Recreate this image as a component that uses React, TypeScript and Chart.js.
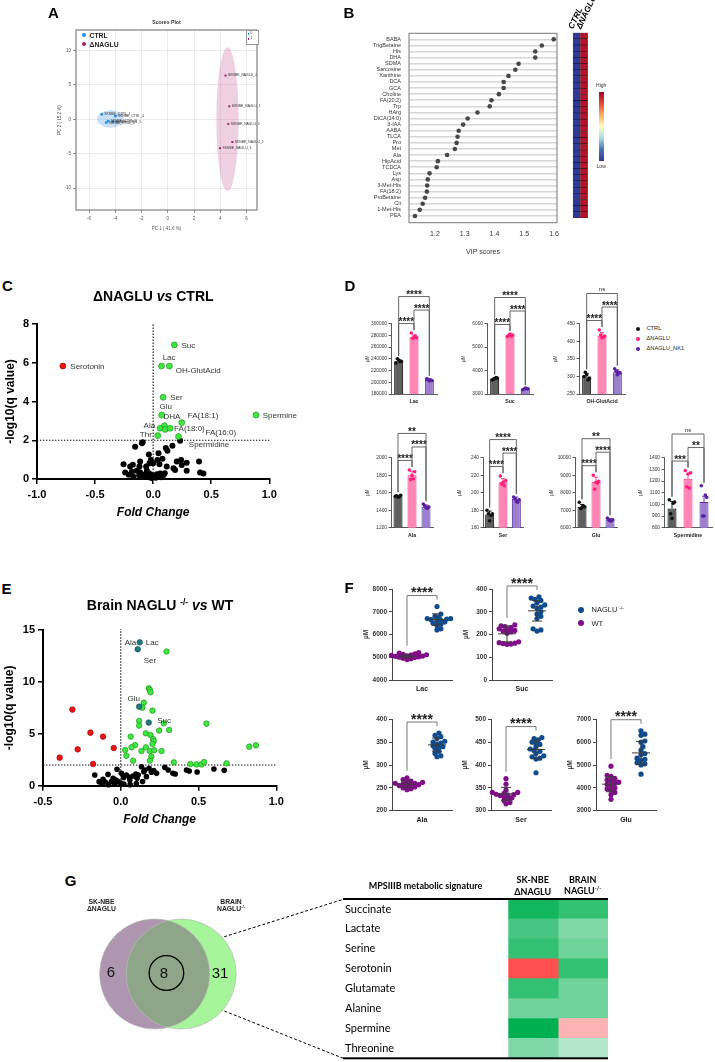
import React, { useEffect, useRef } from 'react';
import { Chart, registerables } from 'chart.js';

Chart.register(...registerables);

const ARIAL = '"Liberation Sans", Arial, Helvetica, sans-serif';
const LATO = 'Lato, "Open Sans", sans-serif';
Chart.defaults.font.family = ARIAL;
Chart.defaults.color = '#222';

/* ================= DATA ================= */
// A: PCA scores
const pcaCtrlNames = ['SKNBE_CTRL_1', 'SKNBE_CTRL_4', 'SKNBE_CTRL_3', 'SKNBE_CTRL_2', 'SKNBE_CTRL_5'];
const pcaCtrlPC1 = [-5.03, -4.0, -4.55, -4.7, -4.19];
const pcaCtrlPC2 = [0.73, 0.48, -0.25, -0.48, -0.34];
const pcaNagluNames = ['SKNBE_NAGLU_4', 'SKNBE_NAGLU_1', 'SKNBE_NAGLU_5', 'SKNBE_NAGLU_2', 'SKNBE_NAGLU_3'];
const pcaNagluPC1 = [4.4, 4.69, 4.61, 4.92, 3.98];
const pcaNagluPC2 = [6.37, 1.9, -0.68, -3.3, -4.2];
const pcaCtrlEllipse = [-4.37, 0.05, 1.04, 1.26];
const pcaNagluEllipse = [4.55, 0.0, 0.85, 10.45];

// B: VIP scores
const vipNames = ['BABA', 'TrigBetaine', 'His', 'DHA', 'SDMA', 'Sarcosine', 'Xanthine', 'DCA', 'GCA', 'Choline', 'FA(20:2)', 'Trp', 'HArg', 'DiCA(14:0)', '3-IAA', 'AABA', 'TLCA', 'Pro', 'Met', 'Ala', 'HipAcid', 'TCDCA', 'Lys', 'Asp', '3-Met-His', 'FA(18:2)', 'ProBetaine', 'Cit', '1-Met-His', 'PEA'];
const vipScores = [1.599, 1.559, 1.537, 1.537, 1.481, 1.47, 1.447, 1.431, 1.431, 1.415, 1.39, 1.384, 1.343, 1.31, 1.295, 1.28, 1.276, 1.273, 1.267, 1.241, 1.21, 1.206, 1.182, 1.176, 1.174, 1.173, 1.167, 1.159, 1.149, 1.133];
const vipCtrlLevel = [-1, -1, -1, -1, -1, -1, -1, -1, -1, -1, -1, -1, -1, -1, -1, -1, -1, -1, -1, -1, -1, -1, -1, -1, -1, -1, -1, -1, -1, -1];
const vipNagluLevel = [1, 1, 1, 1, 1, 1, 1, 1, 1, 1, 1, 1, 1, 1, 1, 1, 1, 1, 1, 1, 1, 1, 1, 1, 1, 1, 1, 1, 1, 1];

// C: volcano ΔNAGLU vs CTRL
const cUpNames = ['Suc', 'Lac', 'OH-GlutAcid', 'Ser', 'Glu', 'FA(18:1)', 'Spermine', 'DHA', 'Ala', '', 'FA(18:0)', 'Thr', 'FA(16:0)'];
const cUpPts: [number, number][] = [[0.183, 6.92], [0.072, 5.83], [0.14, 5.83], [0.086, 4.22], [0.074, 3.3], [0.246, 2.91], [0.885, 3.3], [0.097, 2.75], [0.06, 2.62], [0.103, 2.56], [0.146, 2.62], [0.04, 2.24], [0.218, 2.19]];
const cDownNames = ['Serotonin'];
const cDownPts: [number, number][] = [[-0.777, 5.83]];
const cNsNames = ['Spermidine'];
const cNsPts: [number, number][] = [[0.232, 1.98], [-0.155, 1.67], [-0.097, 1.84], [-0.09, 1.9], [-0.037, 1.27], [0.046, 1.33], [0.109, 1.6], [0.123, 1.46], [0.166, 1.72], [0.08, 1.05], [-0.255, 0.76], [-0.175, 0.74], [-0.112, 0.9], [-0.032, 0.81], [0.0, 0.81], [0.054, 0.76], [0.203, 0.9], [0.241, 0.98], [0.289, 0.84], [0.395, 0.9], [-0.241, 0.33], [-0.183, 0.38], [-0.14, 0.43], [-0.112, 0.33], [-0.054, 0.43], [-0.034, 0.29], [-0.009, 0.21], [0.011, 0.12], [0.032, 0.24], [0.06, 0.29], [0.089, 0.21], [0.175, 0.55], [0.189, 0.46], [0.246, 0.72], [0.289, 0.43], [0.404, 0.33], [0.433, 0.29], [-0.169, 0.12], [-0.083, 0.12], [-0.04, 0.09], [-0.014, 0.05], [0.023, 0.07], [0.072, 0.09], [-0.06, 0.64], [-0.118, 0.64], [0.117, 0.64], [-0.02, 0.98], [0.037, 0.98], [-0.198, 0.64], [-0.12, 0.2], [-0.07, 0.25], [0.1, 0.3], [-0.21, 0.22]];

// D: bar charts
const dGroups = ['CTRL', 'ΔNAGLU', 'ΔNAGLU_NK1'];
const lacMean = [236000, 277000, 204000];
const lacSd = [3000, 3500, 2000];
const lacPts = [[233000, 236000, 238000, 240000, 235000], [284000, 276000, 277000, 275000, 279000], [206000, 203000, 202000, 205000, 204000]];
const lacSig = ['****', '****', '****'];
const sucMean = [3650, 5500, 3210];
const sucSd = [50, 45, 40];
const sucPts = [[3600, 3680, 3650, 3620, 3700], [5450, 5520, 5560, 5500, 5480], [3180, 3220, 3250, 3200, 3230]];
const sucSig = ['****', '****', '****'];
const ohMean = [300, 416, 312];
const ohSd = [8, 9, 7];
const ohPts = [[300, 295, 305, 312, 290], [432, 415, 410, 418, 412], [322, 310, 305, 315, 312]];
const ohSig = ['****', '****', 'ns'];
const alaMean = [1560, 1800, 1440];
const alaSd = [10, 45, 20];
const alaPts = [[1560, 1570, 1550, 1565, 1555], [1860, 1840, 1800, 1750, 1760], [1470, 1440, 1430, 1450, 1420]];
const alaSig = ['****', '****', '**'];
const serMean = [175, 212, 193];
const serSd = [4, 4, 2];
const serPts = [[180, 176, 168, 176, 174], [219, 214, 212, 210, 208], [195, 192, 190, 193, 189]];
const serSig = ['****', '****', '****'];
const gluMean = [7200, 8630, 6470];
const gluSd = [130, 260, 60];
const gluPts = [[7450, 7200, 7150, 7100, 7250], [9000, 8650, 8600, 8200, 8550], [6550, 6450, 6400, 6450, 6380]];
const gluSig = ['****', '****', '**'];
const spdMean = [965, 1220, 1020];
const spdSd = [60, 45, 50];
const spdPts = [[1040, 1020, 880, 920, 1010], [1290, 1270, 1260, 1150, 1140], [1160, 1060, 900, 900, 1080]];
const spdSig = ['***', '**', 'ns'];

// E: volcano brain NAGLU-/- vs WT
const eTealNames = ['Ala', 'Lac', 'Glu', 'Suc'];
const eTealPts: [number, number][] = [[0.122, 13.82], [0.109, 13.15], [0.118, 7.62], [0.18, 6.08]];
const eUpNames = ['Ser'];
const eUpPts: [number, number][] = [[0.294, 12.93], [0.18, 9.39], [0.187, 9.23], [0.191, 9.0], [0.148, 8.0], [0.139, 7.52], [0.204, 7.23], [0.118, 6.24], [0.118, 5.79], [0.277, 6.01], [0.551, 5.98], [0.247, 5.31], [0.311, 5.37], [0.161, 5.05], [0.191, 4.89], [0.064, 4.73], [0.208, 4.5], [0.212, 4.31], [0.204, 4.02], [0.092, 3.92], [0.069, 3.7], [0.161, 3.7], [0.133, 3.34], [0.187, 3.34], [0.215, 3.41], [0.262, 3.34], [0.028, 3.44], [0.036, 2.89], [0.197, 2.8], [0.079, 2.41], [0.187, 2.41], [0.341, 2.25], [0.448, 2.09], [0.487, 2.05], [0.519, 2.05], [0.536, 2.28], [0.68, 2.15], [0.826, 3.76], [0.869, 3.89]];
const eDownPts: [number, number][] = [[-0.311, 7.33], [-0.195, 5.11], [-0.114, 4.73], [-0.277, 3.5], [-0.045, 3.63], [-0.393, 2.7], [-0.178, 2.09]];
const eNsPts: [number, number][] = [[-0.167, 1.03], [-0.139, 0.39], [-0.114, 0.61], [-0.082, 1.09], [-0.049, 0.71], [-0.032, 0.55], [-0.024, 1.58], [0.004, 1.19], [0.019, 0.8], [0.036, 1.03], [0.058, 0.8], [0.079, 0.93], [0.097, 1.13], [0.133, 1.83], [0.155, 1.51], [0.182, 1.67], [0.197, 1.29], [0.212, 1.45], [0.23, 1.19], [0.283, 1.77], [0.305, 1.51], [0.335, 1.19], [0.35, 1.13], [0.423, 1.51], [0.44, 1.41], [0.491, 1.32], [0.599, 1.61], [0.665, 1.48], [-0.06, 0.39], [-0.017, 0.39], [-0.002, 0.29], [0.058, 0.55], [0.105, 0.71], [0.148, 1.35], [0.165, 0.87], [0.112, 1.03], [-0.12, 0.15], [-0.08, 0.1], [-0.04, 0.2], [0.02, 0.15], [0.06, 0.1], [0.1, 0.2], [-0.1, 0.35], [0.14, 0.4]];

// F: dot plots brain
const fGroups = ['WT', 'NAGLU -/-'];
const fLacWT = [4900, 4930, 4960, 4990, 5000, 5020, 5040, 5050, 5060, 5080, 5100, 5110, 5130, 5150, 5180, 5200];
const fLacKO = [7230, 6900, 6800, 6750, 6700, 6680, 6650, 6620, 6600, 6550, 6500, 6450, 6400, 6250, 6200, 6700];
const fLacMean = [5045, 6660];
const fLacSd = [60, 250];
const fSucWT = [242, 238, 235, 230, 225, 222, 218, 215, 212, 205, 168, 164, 160, 157, 162, 158];
const fSucKO = [365, 360, 355, 350, 340, 330, 325, 320, 315, 300, 290, 280, 270, 225, 220, 215];
const fSucMean = [203, 304];
const fSucSd = [35, 45];
const fAlaWT = [272, 268, 265, 262, 260, 258, 257, 256, 255, 254, 252, 250, 248, 246, 262, 260];
const fAlaKO = [370, 365, 362, 358, 352, 348, 345, 342, 340, 338, 335, 330, 325, 320, 318, 350];
const fAlaMean = [258, 344];
const fAlaSd = [7, 15];
const fSerWT = [370, 358, 345, 340, 338, 336, 335, 334, 333, 330, 328, 326, 322, 318, 315, 340];
const fSerKO = [460, 458, 455, 450, 448, 445, 440, 435, 432, 430, 425, 420, 418, 415, 413, 383];
const fSerMean = [337, 434];
const fSerSd = [14, 20];
const fGluWT = [4950, 4550, 4500, 4400, 4350, 4300, 4250, 4200, 4150, 4100, 4000, 3950, 3900, 3800, 3700, 3500];
const fGluKO = [6500, 6350, 6300, 6050, 6000, 5800, 5650, 5500, 5450, 5300, 5250, 5200, 5100, 5050, 5000, 4600];
const fGluMean = [4160, 5530];
const fGluSd = [330, 500];

// G: Venn + signature table
const vennSets = ['SK-NBE ΔNAGLU', 'BRAIN NAGLU-/-'];
const vennX = [0, 1];
const vennCounts = ['6', '8', '31'];
const gRows = ['Succinate', 'Lactate', 'Serine', 'Serotonin', 'Glutamate', 'Alanine', 'Spermine', 'Threonine'];
const gSkLevel = [0.93, 0.72, 0.8, -0.69, 0.8, 0.57, 1.0, 0.5];
const gBrainLevel = [0.8, 0.5, 0.57, 0.8, 0.57, 0.57, -0.3, 0.3];

/* ================= HELPERS ================= */
const fitW = (w: number) => (s: any) => { s.width = w; };
const fitH = (h: number) => (s: any) => { s.height = h; };
const base = (pad: any) => ({
  responsive: false,
  animation: false,
  events: [],
  layout: { padding: pad },
  plugins: { legend: { display: false }, tooltip: { enabled: false }, title: { display: false } },
});

function cellColor(v: number) {
  const t = Math.min(1, Math.abs(v));
  const c = v >= 0 ? [0, 176, 80] : [255, 0, 0];
  const m = (x: number) => Math.round(255 + (x - 255) * t);
  return `rgb(${m(c[0])},${m(c[1])},${m(c[2])})`;
}
function heatColor(v: number) {
  return v < 0 ? '#2d3b97' : '#b3142c';
}

/* ---------- A ---------- */
function makeA() {
  const plugin = {
    id: 'aExtras',
    beforeDatasetsDraw(chart: any) {
      const { ctx } = chart;
      const xs = chart.scales.x, ys = chart.scales.y;
      const list: [number[], string][] = [[pcaCtrlEllipse, 'rgba(120,178,232,0.4)'], [pcaNagluEllipse, 'rgba(205,120,170,0.35)']];
      list.forEach(([e, c]) => {
        const cx = xs.getPixelForValue(e[0]), cy = ys.getPixelForValue(e[1]);
        const rx = Math.abs(xs.getPixelForValue(e[0] + e[2]) - cx), ry = Math.abs(ys.getPixelForValue(e[1] + e[3]) - cy);
        ctx.save();
        ctx.fillStyle = c;
        ctx.beginPath();
        ctx.ellipse(cx, cy, rx, ry, 0, 0, Math.PI * 2);
        ctx.fill();
        ctx.restore();
      });
    },
    afterDatasetsDraw(chart: any) {
      const { ctx } = chart;
      ctx.save();
      ctx.font = `3.4px ${ARIAL}`;
      ctx.fillStyle = '#333';
      ctx.textBaseline = 'middle';
      ctx.textAlign = 'left';
      [pcaCtrlNames, pcaNagluNames].forEach((names, di) => {
        const meta = chart.getDatasetMeta(di);
        names.forEach((n, i) => { const el = meta.data[i]; ctx.fillText(n, el.x + 2.5, el.y); });
      });
      ctx.restore();
    },
    afterDraw(chart: any) {
      const { ctx, chartArea: a } = chart;
      ctx.save();
      ctx.strokeStyle = '#666';
      ctx.lineWidth = 1;
      ctx.strokeRect(a.left, a.top, a.right - a.left, a.bottom - a.top);
      ctx.restore();
    },
  };
  const tick = { font: { size: 4.5 }, color: '#555' };
  return {
    type: 'scatter',
    data: {
      datasets: [
        { data: pcaCtrlPC1.map((x, i) => ({ x, y: pcaCtrlPC2[i] })), pointRadius: 1.4, pointBackgroundColor: '#1f8fe6', pointBorderWidth: 0 },
        { data: pcaNagluPC1.map((x, i) => ({ x, y: pcaNagluPC2[i] })), pointRadius: 1.4, pointStyle: 'rect', pointBackgroundColor: '#a3206b', pointBorderWidth: 0 },
      ],
    },
    options: {
      ...base({ top: 15, right: 8, left: 0, bottom: 0 }),
      scales: {
        x: { type: 'linear', min: -7, max: 6.8, ticks: { ...tick, stepSize: 2, includeBounds: false, padding: 3 }, grid: { color: '#e6e6e6', lineWidth: 0.8, tickLength: 3, tickColor: '#777' }, border: { display: false }, title: { display: true, text: 'PC 1 ( 41.6 %)', font: { size: 4.5 }, color: '#555', padding: { top: 0, bottom: 9 } }, afterFit: fitH(30) },
        y: { type: 'linear', min: -13.2, max: 13, ticks: { ...tick, stepSize: 5, includeBounds: false, padding: 2 }, grid: { color: '#e6e6e6', lineWidth: 0.8, tickLength: 3, tickColor: '#777' }, border: { display: false }, title: { display: true, text: 'PC 2 ( 15.2 %)', font: { size: 4.5 }, color: '#555', padding: { top: 7, bottom: 0 } }, afterFit: fitW(26) },
      },
    },
    plugins: [plugin],
  };
}

/* ---------- B ---------- */
function makeB() {
  const frame = {
    id: 'bFrame',
    afterDraw(chart: any) {
      const { ctx, chartArea: a } = chart;
      ctx.save();
      ctx.strokeStyle = '#777';
      ctx.lineWidth = 1;
      ctx.strokeRect(a.left, a.top - 3, a.right - a.left, a.bottom - a.top + 6.7);
      ctx.restore();
    },
  };
  return {
    type: 'scatter',
    data: { datasets: [{ data: vipNames.map((n, i) => ({ x: vipScores[i], y: n })), pointRadius: 2.3, pointBackgroundColor: '#474747', pointBorderWidth: 0, clip: false }] },
    options: {
      ...base({ top: 8, right: 6, left: 0, bottom: 0 }),
      scales: {
        x: { type: 'linear', min: 1.113, max: 1.61, ticks: { stepSize: 0.1, includeBounds: false, font: { size: 7 }, color: '#333', padding: 11, callback: (v: any) => Number(v).toFixed(1) }, grid: { display: false, drawTicks: false }, border: { display: false }, title: { display: true, text: 'VIP scores', font: { size: 7 }, color: '#333', padding: { top: 0, bottom: 4 } }, afterFit: fitH(41) },
        y: { type: 'category', labels: vipNames, offset: true, ticks: { font: { size: 5.5 }, color: '#333', padding: 8, autoSkip: false }, grid: { color: '#d6d6d6', lineWidth: 1.6, drawTicks: false }, border: { display: false }, afterFit: fitW(69) },
      },
    },
    plugins: [frame],
  };
}

function makeBHeat() {
  return {
    type: 'bar',
    data: {
      labels: vipNames,
      datasets: [
        { label: 'CTRL', data: vipCtrlLevel.map(() => 1), backgroundColor: vipCtrlLevel.map(heatColor), borderColor: '#1b1b33', borderWidth: 0.6, barPercentage: 1, categoryPercentage: 1 },
        { label: 'ΔNAGLU', data: vipNagluLevel.map(() => 1), backgroundColor: vipNagluLevel.map(heatColor), borderColor: '#2a1010', borderWidth: 0.6, barPercentage: 1, categoryPercentage: 1 },
      ],
    },
    options: {
      ...base({ left: 1.7, top: 1.7, right: 1.3, bottom: 1 }),
      indexAxis: 'y',
      scales: { x: { display: false, stacked: true, min: 0, max: 2 }, y: { display: false, stacked: true } },
    },
  };
}

/* ---------- Volcano (C, E) ---------- */
function volcano(o: any) {
  const refs = {
    id: 'refs',
    beforeDatasetsDraw(chart: any) {
      const { ctx, chartArea: a } = chart;
      const xs = chart.scales.x, ys = chart.scales.y;
      ctx.save();
      ctx.strokeStyle = '#111';
      ctx.lineWidth = 1.1;
      ctx.setLineDash([1.4, 1.6]);
      const x0 = xs.getPixelForValue(0);
      ctx.beginPath(); ctx.moveTo(x0, ys.getPixelForValue(0)); ctx.lineTo(x0, ys.getPixelForValue(o.ymax * 1.006)); ctx.stroke();
      const y0 = ys.getPixelForValue(2);
      ctx.beginPath(); ctx.moveTo(a.left, y0); ctx.lineTo(a.right, y0); ctx.stroke();
      ctx.restore();
    },
  };
  const labels = {
    id: 'labels',
    afterDatasetsDraw(chart: any) {
      const { ctx } = chart;
      ctx.save();
      ctx.font = `${o.lsize}px ${ARIAL}`;
      ctx.fillStyle = '#333';
      ctx.textBaseline = 'middle';
      o.sets.forEach((s: any, di: number) => {
        const meta = chart.getDatasetMeta(di);
        (s.names || []).forEach((n: string, i: number) => {
          const p = o.lpos[n];
          if (!p || !meta.data[i]) return;
          ctx.textAlign = p[2];
          ctx.fillText(n, meta.data[i].x + p[0], meta.data[i].y + p[1]);
        });
      });
      ctx.restore();
    },
  };
  const tickFont = { size: 11, weight: 'bold' };
  const grid = { drawOnChartArea: false, tickLength: 5, color: '#000', lineWidth: 1.5 };
  return {
    type: 'scatter',
    data: {
      datasets: o.sets.map((s: any) => ({ data: s.pts.map((p: number[]) => ({ x: p[0], y: p[1] })), pointRadius: o.r, pointBackgroundColor: s.fill, pointBorderColor: s.edge, pointBorderWidth: s.bw, clip: false, order: s.order })),
    },
    options: {
      ...base({ left: 0, top: o.pt, right: o.pr, bottom: 0 }),
      scales: {
        x: { type: 'linear', min: o.xmin, max: o.xmax, ticks: { stepSize: 0.5, font: tickFont, color: '#000', padding: 4.5, callback: (v: any) => Number(v).toFixed(1) }, grid, border: { color: '#000', width: 2 }, title: { display: true, text: 'Fold Change', font: { size: 12, weight: 'bold', style: 'italic' }, color: '#000', padding: { top: 0, bottom: o.xtb } }, afterFit: fitH(o.hx) },
        y: { type: 'linear', min: 0, max: o.ymax, ticks: { stepSize: o.ystep, font: tickFont, color: '#000', padding: 3 }, grid, border: { color: '#000', width: 2 }, title: { display: true, text: '-log10(q value)', font: { size: 12, weight: 'bold' }, color: '#000', padding: { top: o.ytp, bottom: 0 } }, afterFit: fitW(o.wy) },
      },
    },
    plugins: [refs, labels],
  };
}

const GREEN = '#3fe63f', GREEN_E = '#1f8a1f', RED = '#ee1414', RED_E = '#8a0000';
function makeC() {
  return volcano({
    xmin: -1, xmax: 1, ymax: 8, ystep: 2, r: 3, pt: 24, pr: 35.7, hx: 41, wy: 37, xtb: 0, ytp: 3, lsize: 8,
    sets: [
      { pts: cNsPts, names: cNsNames, fill: '#000', edge: '#000', bw: 0, order: 3 },
      { pts: cUpPts, names: cUpNames, fill: GREEN, edge: GREEN_E, bw: 0.6, order: 2 },
      { pts: cDownPts, names: cDownNames, fill: RED, edge: RED_E, bw: 0.6, order: 1 },
    ],
    lpos: {
      Suc: [7, 1, 'left'], Lac: [7.6, -8.3, 'center'], 'OH-GlutAcid': [6.4, 5, 'left'], Serotonin: [7.4, 1, 'left'],
      Ser: [7, 1, 'left'], Glu: [4, -8.4, 'center'], 'FA(18:1)': [6, -6.6, 'left'], Spermine: [6.7, 1, 'left'],
      DHA: [-1, -9, 'left'], Ala: [-5, -2.5, 'right'], 'FA(18:0)': [4, 1, 'left'], Thr: [-6, -0.6, 'right'],
      'FA(16:0)': [27, -3.3, 'left'], Spermidine: [8.7, 4.4, 'left'],
    },
  });
}
function makeE() {
  return volcano({
    xmin: -0.5, xmax: 1, ymax: 15, ystep: 5, r: 2.8, pt: 18, pr: 13.7, hx: 48.3, wy: 43, xtb: 6.8, ytp: 2, lsize: 8,
    sets: [
      { pts: eNsPts, names: [], fill: '#000', edge: '#000', bw: 0, order: 4 },
      { pts: eUpPts, names: eUpNames, fill: GREEN, edge: GREEN_E, bw: 0.6, order: 3 },
      { pts: eDownPts, names: [], fill: RED, edge: RED_E, bw: 0.6, order: 2 },
      { pts: eTealPts, names: eTealNames, fill: '#1f7a82', edge: '#0e4a50', bw: 0.6, order: 1 },
    ],
    lpos: {
      Ala: [-3.5, 0.5, 'right'], Lac: [8, -6, 'left'], Ser: [-16.6, 9.5, 'center'], Glu: [-5.5, -8, 'center'], Suc: [8.5, -2, 'left'],
    },
  });
}

/* ---------- D bar charts ---------- */
const dBarFill = ['#5f5f5f', '#ff86b5', '#9c80cf'];
const dBarEdge = ['#000000', '#ff2a84', '#5a2aa0'];
const dPtColor = ['#111111', '#ff1f7a', '#5b22a3'];

function makeBar(o: any) {
  return () => {
    const data: any[] = [];
    const groupOf: number[] = [];
    o.pts.forEach((arr: number[], g: number) => arr.forEach((v) => { data.push({ x: dGroups[g], y: v }); groupOf.push(g); }));
    const jit = [-2.7, 2.7, 0, -1.35, 1.35];
    const plugin = {
      id: 'dExtras',
      afterDatasetsUpdate(chart: any) {
        const meta = chart.getDatasetMeta(1);
        const cnt = [0, 0, 0];
        meta.data.forEach((el: any, i: number) => { const g = groupOf[i]; el.x += jit[cnt[g]++ % jit.length]; });
      },
      afterDatasetDraw(chart: any, args: any) {
        if (args.index !== 0) return;
        const { ctx } = chart;
        const xs = chart.scales.x, ys = chart.scales.y;
        ctx.save();
        ctx.lineWidth = 0.9;
        o.means.forEach((m: number, g: number) => {
          const cx = xs.getPixelForValue(g);
          const yt = ys.getPixelForValue(m + o.sd[g]), ym = ys.getPixelForValue(m);
          ctx.strokeStyle = dBarEdge[g];
          ctx.beginPath(); ctx.moveTo(cx, ym); ctx.lineTo(cx, yt); ctx.moveTo(cx - 2, yt); ctx.lineTo(cx + 2, yt); ctx.stroke();
        });
        ctx.restore();
      },
      afterDraw(chart: any) {
        const { ctx } = chart;
        const xs = chart.scales.x, ys = chart.scales.y;
        const top = (g: number) => ys.getPixelForValue(Math.max(...o.pts[g]));
        const l0 = Math.min(top(0), top(1)) - 9.5;
        const l1 = Math.min(l0 - 13.5, Math.min(top(1), top(2)) - 9.5);
        const l2 = Math.min(l1 - 13.5, Math.min(top(0), top(2)) - 9.5);
        const pairs: [number, number, number][] = [[0, 1, l0], [1, 2, l1], [0, 2, l2]];
        ctx.save();
        ctx.strokeStyle = '#555';
        ctx.lineWidth = 0.9;
        ctx.fillStyle = '#222';
        ctx.textAlign = 'center';
        ctx.textBaseline = 'alphabetic';
        pairs.forEach(([a, b, yl], k) => {
          const xa = xs.getPixelForValue(a), xb = xs.getPixelForValue(b);
          const da = Math.max(yl + 3, top(a) - 3), db = Math.max(yl + 3, top(b) - 3);
          ctx.beginPath(); ctx.moveTo(xa, da); ctx.lineTo(xa, yl); ctx.lineTo(xb, yl); ctx.lineTo(xb, db); ctx.stroke();
          const s = o.sig[k];
          if (s === 'ns') { ctx.font = `6px ${ARIAL}`; ctx.fillText(s, (xa + xb) / 2, yl - 2.2); }
          else { ctx.font = `bold 10px ${ARIAL}`; ctx.fillText(s, (xa + xb) / 2, yl + 1.5); }
        });
        ctx.restore();
      },
    };
    const axisCol = '#333';
    return {
      type: 'bar',
      data: {
        labels: dGroups,
        datasets: [
          { type: 'bar', data: o.means, backgroundColor: dBarFill, borderColor: dBarEdge, borderWidth: 1, barPercentage: 9 / (o.pw / 3), categoryPercentage: 1, order: 1 },
          { type: 'scatter', data, pointRadius: 1.8, pointBackgroundColor: groupOf.map((g) => dPtColor[g]), pointBorderWidth: 0, order: 0, clip: false },
        ],
      },
      options: {
        ...base({ left: 0, top: 40.7, right: 4, bottom: 0 }),
        scales: {
          x: { type: 'category', offset: true, ticks: { display: false }, grid: { display: false, drawTicks: false }, border: { color: axisCol, width: 0.8 }, title: { display: true, text: o.name, font: { size: 5.2, weight: 'bold' }, color: '#222', padding: { top: 0, bottom: 3.6 } }, afterFit: fitH(o.hx) },
          y: { type: 'linear', min: o.min, max: o.max, ticks: { stepSize: o.step, font: { size: 4.8 }, color: '#333', padding: 1.5, callback: (v: any) => String(v) }, grid: { drawOnChartArea: false, tickLength: 2.5, color: axisCol, lineWidth: 0.8 }, border: { color: axisCol, width: 0.8 }, title: { display: true, text: 'µM', font: { size: 4.5 }, color: '#333', padding: { top: 0.5, bottom: 0 } }, afterFit: fitW(26) },
        },
      },
      plugins: [plugin],
    };
  };
}

const dCharts = [
  { name: 'Lac', means: lacMean, sd: lacSd, pts: lacPts, sig: lacSig, min: 180000, max: 300000, step: 20000, l: 365, t: 283, pw: 46, hx: 14 },
  { name: 'Suc', means: sucMean, sd: sucSd, pts: sucPts, sig: sucSig, min: 3000, max: 6000, step: 1000, l: 461, t: 283, pw: 46, hx: 14 },
  { name: 'OH-GlutAcid', means: ohMean, sd: ohSd, pts: ohPts, sig: ohSig, min: 250, max: 450, step: 50, l: 553, t: 283, pw: 46, hx: 14 },
  { name: 'Ala', means: alaMean, sd: alaSd, pts: alaPts, sig: alaSig, min: 1200, max: 2000, step: 200, l: 365, t: 417, pw: 42, hx: 14.3 },
  { name: 'Ser', means: serMean, sd: serSd, pts: serPts, sig: serSig, min: 160, max: 240, step: 20, l: 457, t: 417, pw: 40, hx: 14.3 },
  { name: 'Glu', means: gluMean, sd: gluSd, pts: gluPts, sig: gluSig, min: 6000, max: 10000, step: 1000, l: 549, t: 417, pw: 42, hx: 14.3 },
  { name: 'Spermidine', means: spdMean, sd: spdSd, pts: spdPts, sig: spdSig, min: 800, max: 1400, step: 100, l: 638, t: 417, pw: 48, hx: 14.3 },
];

/* ---------- F dot plots ---------- */
const fColors = ['#7f0f86', '#0f4b8d'];
function makeDot(o: any) {
  return () => {
    const r = 2.6;
    const swarm = {
      id: 'swarm',
      afterDatasetsUpdate(chart: any) {
        [0, 1].forEach((di) => {
          const els = chart.getDatasetMeta(di).data.slice().sort((a: any, b: any) => b.y - a.y);
          const placed: any[] = [];
          els.forEach((el: any) => {
            const cx = el.x;
            for (let k = 0; k < 30; k++) {
              const off = (k % 2 === 1 ? 1 : -1) * Math.ceil(k / 2) * r * 0.75;
              const nx = cx + off;
              if (placed.every((q) => Math.hypot(q.x - nx, q.y - el.y) >= 2 * r * 0.66)) { el.x = nx; break; }
            }
            placed.push(el);
          });
        });
      },
      afterDatasetsDraw(chart: any) {
        const { ctx } = chart;
        const xs = chart.scales.x, ys = chart.scales.y;
        ctx.save();
        ctx.strokeStyle = '#3c3c3c';
        ctx.lineWidth = 1;
        [0, 1].forEach((g) => {
          const cx = xs.getPixelForValue(g);
          const ym = ys.getPixelForValue(o.mean[g]);
          const yt = ys.getPixelForValue(o.mean[g] + o.sd[g]), yb = ys.getPixelForValue(o.mean[g] - o.sd[g]);
          ctx.beginPath();
          ctx.moveTo(cx - 9, ym); ctx.lineTo(cx + 9, ym);
          ctx.moveTo(cx, yt); ctx.lineTo(cx, yb);
          ctx.moveTo(cx - 5, yt); ctx.lineTo(cx + 5, yt);
          ctx.moveTo(cx - 5, yb); ctx.lineTo(cx + 5, yb);
          ctx.stroke();
        });
        ctx.restore();
      },
      afterDraw(chart: any) {
        const { ctx } = chart;
        const xs = chart.scales.x, ys = chart.scales.y;
        const t0 = ys.getPixelForValue(Math.max(...o.wt)), t1 = ys.getPixelForValue(Math.max(...o.ko));
        const yl = Math.min(t0, t1) - 11;
        const x0 = xs.getPixelForValue(0), x1 = xs.getPixelForValue(1);
        ctx.save();
        ctx.strokeStyle = '#6a6a6a';
        ctx.lineWidth = 0.9;
        ctx.beginPath();
        ctx.moveTo(x0, Math.max(yl + 4, t0 - 7)); ctx.lineTo(x0, yl); ctx.lineTo(x1, yl); ctx.lineTo(x1, Math.max(yl + 4, t1 - 7));
        ctx.stroke();
        ctx.fillStyle = '#222';
        ctx.font = `bold 14px ${ARIAL}`;
        ctx.textAlign = 'center';
        ctx.textBaseline = 'alphabetic';
        ctx.fillText('****', (x0 + x1) / 2, yl + 1.7);
        ctx.restore();
      },
    };
    const axisCol = '#444';
    return {
      type: 'scatter',
      data: {
        labels: fGroups,
        datasets: [
          { label: fGroups[0], data: o.wt.map((v: number) => ({ x: fGroups[0], y: v })), pointRadius: r, pointBackgroundColor: fColors[0], pointBorderWidth: 0, clip: false },
          { label: fGroups[1], data: o.ko.map((v: number) => ({ x: fGroups[1], y: v })), pointRadius: r, pointBackgroundColor: fColors[1], pointBorderWidth: 0, clip: false },
        ],
      },
      options: {
        ...base({ left: 0, top: o.pt, right: 4, bottom: 0 }),
        scales: {
          x: { type: 'category', labels: fGroups, offset: true, ticks: { display: false }, grid: { display: false, drawTicks: false }, border: { color: axisCol, width: 1 }, title: { display: true, text: o.name, font: { size: 7, weight: 'bold' }, color: '#222', padding: { top: 0, bottom: 2.6 } }, afterFit: fitH(o.hx) },
          y: { type: 'linear', min: o.min, max: o.max, ticks: { stepSize: o.step, font: { size: 6.5, weight: 'bold' }, color: '#333', padding: 2, callback: (v: any) => String(v) }, grid: { drawOnChartArea: false, tickLength: 3, color: axisCol, lineWidth: 1 }, border: { color: axisCol, width: 1 }, title: { display: true, text: 'µM', font: { size: 6.5, weight: 'bold' }, color: '#333', padding: { top: 0.5, bottom: 0 } }, afterFit: fitW(30) },
        },
      },
      plugins: [swarm],
    };
  };
}

const fCharts = [
  { name: 'Lac', wt: fLacWT, ko: fLacKO, mean: fLacMean, sd: fLacSd, min: 4000, max: 8000, step: 1000, l: 362, t: 570, h: 126, pt: 19, hx: 16 },
  { name: 'Suc', wt: fSucWT, ko: fSucKO, mean: fSucMean, sd: fSucSd, min: 0, max: 400, step: 100, l: 462, t: 570, h: 126, pt: 19, hx: 16 },
  { name: 'Ala', wt: fAlaWT, ko: fAlaKO, mean: fAlaMean, sd: fAlaSd, min: 200, max: 400, step: 50, l: 362, t: 700, h: 127, pt: 19.3, hx: 16.3 },
  { name: 'Ser', wt: fSerWT, ko: fSerKO, mean: fSerMean, sd: fSerSd, min: 300, max: 500, step: 50, l: 461, t: 700, h: 127, pt: 19.3, hx: 16.3 },
  { name: 'Glu', wt: fGluWT, ko: fGluKO, mean: fGluMean, sd: fGluSd, min: 3000, max: 7000, step: 1000, l: 566, t: 700, h: 127, pt: 19.3, hx: 16.3 },
];

/* ---------- G ---------- */
function makeVenn() {
  const plugin = {
    id: 'venn',
    afterDatasetsDraw(chart: any) {
      const { ctx } = chart;
      const [a, b] = chart.getDatasetMeta(0).data;
      const R = a.options.radius;
      ctx.save();
      ctx.beginPath(); ctx.arc(a.x, a.y, R, 0, Math.PI * 2); ctx.clip();
      ctx.beginPath(); ctx.arc(b.x, b.y, R, 0, Math.PI * 2);
      ctx.fillStyle = '#8ea58a';
      ctx.fill();
      ctx.restore();
      ctx.save();
      ctx.strokeStyle = '#b5b5b5';
      ctx.lineWidth = 0.6;
      [a, b].forEach((p: any) => { ctx.beginPath(); ctx.arc(p.x, p.y, R, 0, Math.PI * 2); ctx.stroke(); });
      ctx.strokeStyle = '#000';
      ctx.lineWidth = 1.3;
      ctx.beginPath(); ctx.arc((a.x + b.x) / 2 - 1.5, a.y - 1, 17.3, 0, Math.PI * 2); ctx.stroke();
      ctx.restore();
    },
  };
  return {
    type: 'scatter',
    data: { datasets: [{ label: vennSets.join(' / '), data: vennX.map((x) => ({ x, y: 0 })), pointRadius: 55, pointBackgroundColor: ['#ae96b1', '#a7f59b'], pointBorderWidth: 0, clip: false }] },
    options: {
      ...base(0),
      scales: { x: { display: false, min: -1.49, max: 2.645 }, y: { display: false, min: -1, max: 1 } },
    },
    plugins: [plugin],
  };
}

function makeTable() {
  const lines = {
    id: 'tableLines',
    afterDraw(chart: any) {
      const { ctx, chartArea: a } = chart;
      ctx.save();
      ctx.fillStyle = '#000';
      ctx.fillRect(0, a.top - 1, a.right, 2);
      ctx.fillRect(0, a.bottom - 1, a.right, 2);
      ctx.restore();
    },
  };
  return {
    type: 'bar',
    data: {
      labels: gRows,
      datasets: [
        { label: 'SK-NBE ΔNAGLU', data: gSkLevel.map(() => 1), backgroundColor: gSkLevel.map(cellColor), borderWidth: 0, barPercentage: 1, categoryPercentage: 1 },
        { label: 'BRAIN NAGLU-/-', data: gBrainLevel.map(() => 1), backgroundColor: gBrainLevel.map(cellColor), borderWidth: 0, barPercentage: 1, categoryPercentage: 1 },
      ],
    },
    options: {
      ...base({ left: 2, top: 8, right: 0, bottom: 8.7 }),
      indexAxis: 'y',
      scales: {
        x: { display: false, stacked: true, min: 0, max: 2 },
        y: { stacked: true, grid: { display: false, drawTicks: false }, border: { display: false }, ticks: { crossAlign: 'far', font: { family: LATO, size: 11 }, color: '#000', padding: 0, autoSkip: false }, afterFit: fitW(163.3) },
      },
    },
    plugins: [lines],
  };
}

/* ================= COMPONENTS ================= */
function ChartCanvas({ l, t, w, h, make }: { l: number; t: number; w: number; h: number; make: () => any }) {
  const ref = useRef<HTMLCanvasElement | null>(null);
  useEffect(() => {
    const cv = ref.current;
    if (!cv) return;
    const chart = new Chart(cv, make());
    return () => chart.destroy();
  }, []);
  return <canvas ref={ref} width={w} height={h} style={{ position: 'absolute', left: l, top: t, width: w, height: h }} />;
}

function Txt({ x, y, size, weight = 'normal', italic = false, color = '#000', align = 'center', family = ARIAL, children }: any) {
  const tx = align === 'center' ? '-50%' : align === 'right' ? '-100%' : '0';
  return (
    <div style={{ position: 'absolute', left: x, top: y, transform: `translate(${tx}, -50%)`, fontSize: size, fontWeight: weight, fontStyle: italic ? 'italic' : 'normal', color, fontFamily: family, lineHeight: 1, whiteSpace: 'nowrap' }}>
      {children}
    </div>
  );
}
const Sup = ({ children }: any) => <span style={{ fontSize: '0.6em', position: 'relative', top: '-0.6em' }}>{children}</span>;
function Dot({ x, y, r, color, square = false }: any) {
  return <div style={{ position: 'absolute', left: x - r, top: y - r, width: 2 * r, height: 2 * r, borderRadius: square ? 0 : '50%', background: color }} />;
}

export default function App() {
  return (
    <div style={{ position: 'absolute', left: 0, top: 0, width: 715, height: 1062, overflow: 'hidden', background: '#fff', fontFamily: ARIAL }}>
      {/* connectors */}
      <svg width={715} height={1062} style={{ position: 'absolute', left: 0, top: 0 }}>
        <line x1={171.7} y1={953.3} x2={343.3} y2={899.3} stroke="#000" strokeWidth={1} strokeDasharray="3,2" />
        <line x1={173.3} y1={990.7} x2={343.3} y2={1058.3} stroke="#000" strokeWidth={1} strokeDasharray="3,2" />
      </svg>

      {/* A */}
      <ChartCanvas l={50} t={15} w={215} h={225} make={makeA} />
      <Txt x={53.5} y={11.5} size={15} weight="bold">A</Txt>
      <Txt x={166.5} y={22.7} size={5.2} weight="bold" color="#333">Scores Plot</Txt>
      <Dot x={84.3} y={34.7} r={2.2} color="#1f8fe6" />
      <Txt x={89.5} y={35.6} size={6.8} weight="bold" color="#222" align="left">CTRL</Txt>
      <Dot x={84.3} y={44.3} r={2.2} color="#a3206b" />
      <Txt x={89.5} y={44.6} size={6.8} weight="bold" color="#222" align="left">ΔNAGLU</Txt>
      <div style={{ position: 'absolute', left: 245.5, top: 30, width: 11.5, height: 12.5, border: '0.6px solid #999', background: '#fff' }} />
      <Dot x={248.5} y={33.8} r={0.8} color="#1f8fe6" square />
      <Txt x={250.5} y={33.8} size={3.4} color="#333" align="left">0</Txt>
      <Dot x={248.5} y={38.8} r={0.8} color="#a3206b" square />
      <Txt x={250.5} y={38.8} size={3.4} color="#333" align="left">1</Txt>

      {/* B */}
      <ChartCanvas l={340} t={25} w={230} h={235} make={makeB} />
      <ChartCanvas l={571} t={31} w={18} h={188} make={makeBHeat} />
      <Txt x={349} y={11.5} size={15} weight="bold">B</Txt>
      <div style={{ position: 'absolute', left: 574, top: 22, transformOrigin: '0 100%', transform: 'rotate(-65deg)', fontSize: 8.5, fontWeight: 'bold', fontStyle: 'italic', lineHeight: '8px', whiteSpace: 'nowrap' }}>CTRL</div>
      <div style={{ position: 'absolute', left: 582, top: 22, transformOrigin: '0 100%', transform: 'rotate(-65deg)', fontSize: 8.5, fontWeight: 'bold', fontStyle: 'italic', lineHeight: '8px', whiteSpace: 'nowrap' }}>ΔNAGLU</div>
      <Txt x={601.2} y={85.3} size={5} color="#333">High</Txt>
      <div style={{ position: 'absolute', left: 598.6, top: 91.7, width: 5.2, height: 69, background: 'linear-gradient(to bottom, #a50026, #e34a33, #fdae61, #ffffbf, #abd9e9, #4575b4, #313695)' }} />
      <Txt x={601.2} y={165.5} size={5} color="#333">Low</Txt>

      {/* C */}
      <ChartCanvas l={0} t={300} w={305} h={220} make={makeC} />
      <Txt x={7.5} y={284.5} size={15} weight="bold">C</Txt>
      <Txt x={153.3} y={296} size={14} weight="bold">ΔNAGLU <i>vs</i> CTRL</Txt>

      {/* D */}
      {dCharts.map((d) => (
        <ChartCanvas key={d.name} l={d.l} t={d.t} w={26 + d.pw + 4} h={125} make={makeBar(d)} />
      ))}
      <Txt x={350} y={284.5} size={15} weight="bold">D</Txt>
      <Dot x={638.3} y={329} r={2} color={dPtColor[0]} />
      <Txt x={646.5} y={329.3} size={5.7} color="#222" align="left">CTRL</Txt>
      <Dot x={638.3} y={339} r={2} color={dPtColor[1]} />
      <Txt x={646.5} y={339.3} size={5.7} color="#222" align="left">ΔNAGLU</Txt>
      <Dot x={638.3} y={349} r={2} color={dPtColor[2]} />
      <Txt x={646.5} y={349.3} size={5.7} color="#222" align="left">ΔNAGLU_NK1</Txt>

      {/* E */}
      <ChartCanvas l={0} t={612} w={290} h={222} make={makeE} />
      <Txt x={6.5} y={587.7} size={15} weight="bold">E</Txt>
      <Txt x={160} y={605.3} size={14} weight="bold">Brain NAGLU <Sup>-/-</Sup> <i>vs</i> WT</Txt>

      {/* F */}
      {fCharts.map((f) => (
        <ChartCanvas key={f.name} l={f.l} t={f.t} w={94} h={f.h} make={makeDot(f)} />
      ))}
      <Txt x={349.2} y={586.7} size={15} weight="bold">F</Txt>
      <Dot x={581} y={610} r={3} color={fColors[1]} />
      <Txt x={591.5} y={610.3} size={7.5} color="#222" align="left">NAGLU <Sup>-/-</Sup></Txt>
      <Dot x={581} y={623.3} r={3} color={fColors[0]} />
      <Txt x={591.5} y={623.6} size={7.5} color="#222" align="left">WT</Txt>

      {/* G */}
      <ChartCanvas l={60} t={899} w={220} h={150} make={makeVenn} />
      <ChartCanvas l={343} t={891} w={265} h={176} make={makeTable} />
      <Txt x={70.5} y={879.7} size={15} weight="bold">G</Txt>
      <Txt x={101.5} y={902.3} size={6.8} weight="bold" color="#222">SK-NBE</Txt>
      <Txt x={101.5} y={908.8} size={6.8} weight="bold" color="#222">ΔNAGLU</Txt>
      <Txt x={231} y={902.3} size={6.8} weight="bold" color="#222">BRAIN</Txt>
      <Txt x={231} y={908.8} size={6.8} weight="bold" color="#222">NAGLU<Sup>-/-</Sup></Txt>
      <Txt x={111} y={971.2} size={15} color="#111">{vennCounts[0]}</Txt>
      <Txt x={164} y={972} size={15} color="#111">{vennCounts[1]}</Txt>
      <Txt x={220} y={972} size={15} color="#111">{vennCounts[2]}</Txt>
      <Txt x={425.5} y={885} size={9} weight="bold" family={LATO}>MPSIIIB metabolic signature</Txt>
      <Txt x={532.7} y={879} size={9} weight="bold" family={LATO}>SK-NBE</Txt>
      <Txt x={532.7} y={890.7} size={9} weight="bold" family={LATO}>ΔNAGLU</Txt>
      <Txt x={582.7} y={879} size={9} weight="bold" family={LATO}>BRAIN</Txt>
      <Txt x={582.7} y={890.7} size={9} weight="bold" family={LATO}>NAGLU<Sup>-/-</Sup></Txt>
    </div>
  );
}
